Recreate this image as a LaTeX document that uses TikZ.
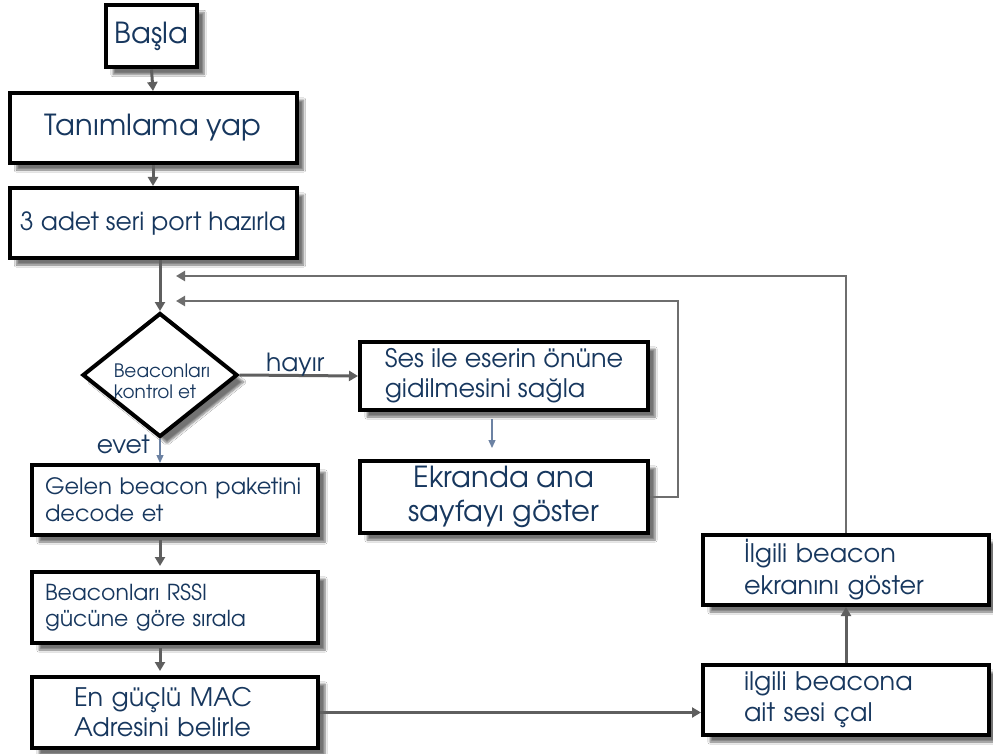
\documentclass[tikz,border=0pt]{standalone}
\usepackage{fontspec}
\setmainfont{TeX Gyre Adventor}
\usetikzlibrary{arrows.meta,shapes.geometric,shadows.blur,calc}
\definecolor{txt}{HTML}{17375E}
\definecolor{arr}{HTML}{5F5F5F}
\definecolor{loopc}{HTML}{6E6E6E}
\definecolor{thin}{HTML}{6C82A3}
\tikzset{
  box/.style={draw=black, line width=4pt, fill=white, text=txt, inner ysep=2pt,
    blur shadow={shadow xshift=7pt, shadow yshift=-7pt, shadow blur steps=6, shadow opacity=55}},
  garrow/.style={draw=arr, line width=3pt, -{Triangle[length=9pt,width=10pt]}},
  looparrow/.style={draw=loopc, line width=2.8pt, -{Triangle[length=9pt,width=10pt]}},
  thinarrow/.style={draw=thin, line width=1.3pt, -{Triangle[length=8pt,width=7pt]}},
  lbl/.style={text=txt}
}
\begin{document}
\begin{tikzpicture}[x=1pt,y=-1pt]
\useasboundingbox[fill=white] (0,0) rectangle (993,754);

\node[box, minimum width=91pt, minimum height=62pt, font=\fontsize{29}{34}\selectfont] (start) at (151.5,36.5) {Başla};
\node[box, minimum width=287pt, minimum height=70pt, font=\fontsize{29}{34}\selectfont] (def) at (153,128) {Tanımlama yap};
\node[box, minimum width=287pt, minimum height=70pt, font=\fontsize{25}{30}\selectfont] (port) at (153,223) {3 adet seri port hazırla};

\node[diamond, draw=black, line width=4pt, fill=white, minimum width=155pt, minimum height=124pt, inner sep=0pt,
  blur shadow={shadow xshift=7pt, shadow yshift=-7pt, shadow blur steps=6, shadow opacity=55}] (dia) at (160,375) {};
\node[lbl, align=left, inner sep=0pt, font=\fontsize{18.5}{21}\selectfont] (diatext) at (162,381) {Beaconları\\kontrol et};

\node[box, minimum width=288pt, minimum height=68pt, align=left, font=\fontsize{25.5}{30}\selectfont] (ses) at (504,376) {Ses ile eserin önüne\\gidilmesini sağla};
\node[box, minimum width=288pt, minimum height=72pt, align=center, font=\fontsize{29}{34}\selectfont] (ekr) at (504,497) {Ekranda ana\\sayfayı göster};

\node[box, minimum width=286pt, minimum height=70pt, inner xsep=13pt, text width=260pt, align=left, font=\fontsize{22.5}{27}\selectfont] (gelen) at (175,500) {Gelen beacon paketini\\decode et};
\node[box, minimum width=286pt, minimum height=71pt, inner xsep=13pt, text width=260pt, align=left, font=\fontsize{22}{26}\selectfont] (rssi) at (175,607.5) {Beaconları RSSI\\gücüne göre sırala};
\node[box, minimum width=286pt, minimum height=71pt, inner xsep=42pt, text width=202pt, align=left, font=\fontsize{25.5}{30}\selectfont] (mac) at (175,712.5) {En güçlü MAC\\Adresini belirle};

\node[box, minimum width=286pt, minimum height=70pt, inner xsep=41pt, text width=204pt, align=left, font=\fontsize{25.5}{32}\selectfont] (ilg1) at (846,570) {İlgili beacon\\ekranını göster};
\node[box, minimum width=286pt, minimum height=70pt, inner xsep=41pt, text width=204pt, align=left, font=\fontsize{25.5}{31}\selectfont] (ilg2) at (846,700) {ilgili beacona\\ait sesi çal};

\coordinate (in1) at (176,276);
\coordinate (in2) at (176,301);

% connectors
\draw[garrow] (start.south) -- (def.north);
\draw[garrow] (def.south) -- (port.north);
\draw[garrow] (dia.north |- port.south) -- (dia.north);
\draw[looparrow] (ilg1.north) |- (in1);
\draw[looparrow] (ekr.east) -- ++(28,0) |- (in2);
\draw[garrow] (dia.east) -- node[lbl, above, pos=0.42, font=\fontsize{25}{28}\selectfont, inner sep=0pt, xshift=6pt, yshift=-2pt] {hayır} (ses.west);
\draw[thinarrow, shorten <=7pt, shorten >=11pt] ($(ses.south)+(-12,0)$) -- ($(ekr.north)+(-12,0)$);
\draw[thinarrow] (dia.south) -- (dia.south |- gelen.north);
\node[lbl, font=\fontsize{25}{28}\selectfont, inner sep=0pt, anchor=east] (evet) at ($(dia.south)+(-10,5)$) {evet};
\draw[garrow, shorten <=3pt, shorten >=4pt] (gelen.south -| dia.south) -- (rssi.north -| dia.south);
\draw[garrow, shorten <=3pt, shorten >=4pt] (rssi.south -| dia.south) -- (mac.north -| dia.south);
\draw[garrow] (mac.east) -- (mac.east -| ilg2.west);
\draw[garrow] (ilg2.north) -- (ilg1.south);
\end{tikzpicture}
\end{document}
